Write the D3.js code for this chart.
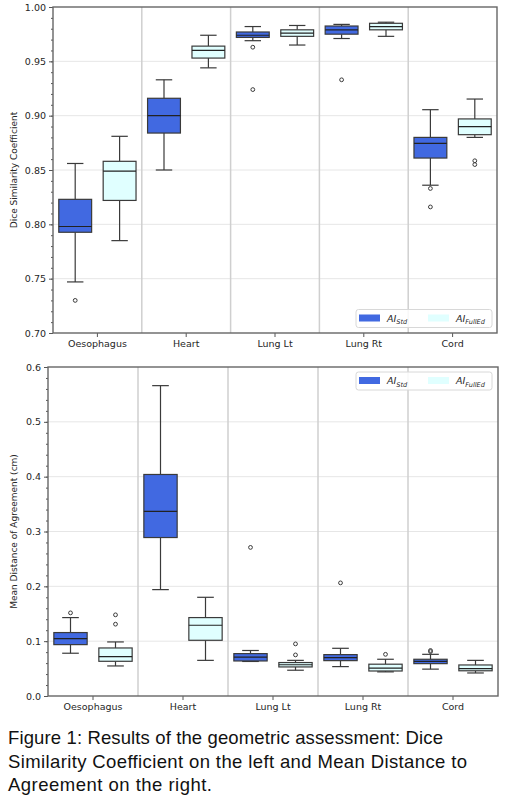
<!DOCTYPE html>
<html>
<head>
<meta charset="utf-8">
<script src="https://cdn.jsdelivr.net/npm/d3@7"></script>
<style>
  body { margin: 0; background: #fff; }
  svg { display: block; }
  .tick text { font-family: 'DejaVu Sans', sans-serif; font-size: 9.5px; fill: #262626; }
</style>
</head>
<body>
<svg id="fig" width="509" height="800"></svg>
<script>
const categories = ['Oesophagus', 'Heart', 'Lung Lt', 'Lung Rt', 'Cord'];
const series = ['Std', 'FullEd'];

// [lower whisker, q1, median, q3, upper whisker]
const dscStd = [
  [0.747, 0.7927, 0.798, 0.823, 0.856],
  [0.850, 0.884, 0.900, 0.916, 0.933],
  [0.969, 0.972, 0.974, 0.977, 0.982],
  [0.971, 0.975, 0.979, 0.9825, 0.984],
  [0.836, 0.861, 0.8745, 0.880, 0.9055]
];
const dscStdOutliers = [[0.730], [], [0.963, 0.924], [0.933], [0.833, 0.816]];
const dscFull = [
  [0.785, 0.822, 0.849, 0.858, 0.881],
  [0.944, 0.953, 0.960, 0.964, 0.974],
  [0.965, 0.973, 0.976, 0.979, 0.983],
  [0.973, 0.979, 0.982, 0.985, 0.986],
  [0.880, 0.8825, 0.890, 0.897, 0.9153]
];
const dscFullOutliers = [[], [], [], [], [0.8585, 0.855]];

const mdaStd = [
  [0.078, 0.0937, 0.1047, 0.1157, 0.143],
  [0.194, 0.289, 0.3366, 0.404, 0.566],
  [0.063, 0.0639, 0.071, 0.0773, 0.083],
  [0.0536, 0.0645, 0.070, 0.0755, 0.087],
  [0.049, 0.059, 0.063, 0.067, 0.076]
];
const mdaStdOutliers = [[0.1516], [], [0.271], [0.2063], [0.083, 0.081]];
const mdaFull = [
  [0.0548, 0.0633, 0.0718, 0.0876, 0.0986],
  [0.065, 0.1016, 0.129, 0.143, 0.180],
  [0.047, 0.053, 0.057, 0.061, 0.065],
  [0.044, 0.0456, 0.051, 0.058, 0.067],
  [0.042, 0.046, 0.050, 0.0566, 0.065]
];
const mdaFullOutliers = [[0.148, 0.131], [], [0.0749, 0.095], [0.076], []];

const dscTicks = [0.70, 0.75, 0.80, 0.85, 0.90, 0.95, 1.00];
const mdaTicks = [0.0, 0.1, 0.2, 0.3, 0.4, 0.5, 0.6];

const captionLines = [
  'Figure 1: Results of the geometric assessment: Dice',
  'Similarity Coefficient on the left and Mean Distance to',
  'Agreement on the right.'
];

const colors = {'Std': '#4169e1', 'FullEd': '#e0ffff'};
const edge = '#3a3a3a';

const svg = d3.select('#fig');

function drawPanel(p) {
  let g = svg.append('g');
  let x = d3.scaleBand().domain(categories).range([p.left, p.right]);
  let xi = d3.scaleBand().domain(series).range([0, x.bandwidth()]);
  let y = d3.scaleLinear().domain(p.domain).range([p.bottom, p.top]);
  let boxW = xi.bandwidth() * 0.74;

  // horizontal grid
  g.append('g').selectAll('line')
    .data(p.ticks.slice(1, -1))
    .enter().append('line')
    .attr('x1', p.left).attr('x2', p.right)
    .attr('y1', d => y(d)).attr('y2', d => y(d))
    .attr('stroke', '#e6e6e6').attr('stroke-width', 1);

  // category separators
  g.append('g').selectAll('line')
    .data(categories.slice(1))
    .enter().append('line')
    .attr('x1', d => x(d)).attr('x2', d => x(d))
    .attr('y1', p.top).attr('y2', p.bottom)
    .attr('stroke', '#cfcfcf').attr('stroke-width', 1.5);

  // boxes
  series.forEach((s, si) => {
    let stats = p.stats[si];
    let outl = p.outliers[si];
    let bg = g.append('g').selectAll('g')
      .data(categories.map((c, i) => ({c: c, st: stats[i], out: outl[i]})))
      .enter().append('g');
    let cx = d => x(d.c) + xi(s) + xi.bandwidth() / 2;

    bg.append('line')
      .attr('x1', cx).attr('x2', cx)
      .attr('y1', d => y(d.st[0])).attr('y2', d => y(d.st[1]))
      .attr('stroke', edge).attr('stroke-width', 1.2);
    bg.append('line')
      .attr('x1', cx).attr('x2', cx)
      .attr('y1', d => y(d.st[3])).attr('y2', d => y(d.st[4]))
      .attr('stroke', edge).attr('stroke-width', 1.2);
    [0, 4].forEach(k => {
      bg.append('line')
        .attr('x1', d => cx(d) - boxW / 4).attr('x2', d => cx(d) + boxW / 4)
        .attr('y1', d => y(d.st[k])).attr('y2', d => y(d.st[k]))
        .attr('stroke', edge).attr('stroke-width', 1.2);
    });
    bg.append('rect')
      .attr('x', d => cx(d) - boxW / 2)
      .attr('width', boxW)
      .attr('y', d => y(d.st[3]))
      .attr('height', d => y(d.st[1]) - y(d.st[3]))
      .attr('fill', colors[s])
      .attr('stroke', edge).attr('stroke-width', 1.2);
    bg.append('line')
      .attr('x1', d => cx(d) - boxW / 2).attr('x2', d => cx(d) + boxW / 2)
      .attr('y1', d => y(d.st[2])).attr('y2', d => y(d.st[2]))
      .attr('stroke', '#222').attr('stroke-width', 1.2);
    bg.selectAll('circle')
      .data(d => d.out.map(v => ({v: v, c: d.c})))
      .enter().append('circle')
      .attr('cx', cx)
      .attr('cy', d => y(d.v))
      .attr('r', 1.9)
      .attr('fill', 'none')
      .attr('stroke', edge).attr('stroke-width', 1);
  });

  // axes
  let yMinor = d3.range(p.domain[0], p.domain[1] + p.minor / 2, p.minor);
  g.append('g')
    .attr('transform', 'translate(' + p.left + ',0)')
    .call(d3.axisLeft(y).tickValues(yMinor).tickSize(2).tickFormat(''))
    .call(a => a.select('.domain').remove())
    .selectAll('line').attr('stroke', '#555');
  g.append('g')
    .attr('transform', 'translate(' + p.left + ',0)')
    .call(d3.axisLeft(y).tickValues(p.ticks).tickSize(4).tickPadding(3).tickFormat(d3.format(p.fmt)))
    .call(a => a.select('.domain').remove())
    .selectAll('line').attr('stroke', '#555');
  g.append('g')
    .attr('transform', 'translate(0,' + p.bottom + ')')
    .call(d3.axisBottom(x).tickSize(4).tickPadding(3))
    .call(a => a.select('.domain').remove())
    .selectAll('line').attr('stroke', '#555');

  g.append('rect')
    .attr('x', p.left).attr('y', p.top)
    .attr('width', p.right - p.left).attr('height', p.bottom - p.top)
    .attr('fill', 'none').attr('stroke', '#666').attr('stroke-width', 1.4);

  g.append('text')
    .attr('transform', 'translate(14,' + (p.top + p.bottom) / 2 + ') rotate(-90)')
    .attr('text-anchor', 'middle')
    .attr('dy', '0.35em')
    .style('font-family', "'DejaVu Sans', sans-serif")
    .style('font-size', '9px')
    .style('fill', '#262626')
    .text(p.label);

  // legend
  let lg = g.append('g').attr('transform', 'translate(' + p.legend[0] + ',' + p.legend[1] + ')');
  lg.append('rect')
    .attr('width', 136).attr('height', 18).attr('rx', 2.5)
    .attr('fill', 'rgba(255,255,255,0.85)')
    .attr('stroke', '#d8d8d8').attr('stroke-width', 1);
  series.forEach((s, i) => {
    let ox = 3 + i * 69;
    lg.append('rect')
      .attr('x', ox).attr('y', 5).attr('width', 21).attr('height', 7)
      .attr('fill', colors[s]);
    let t = lg.append('text')
      .attr('x', ox + 28).attr('y', 12)
      .style('font-family', "'DejaVu Sans', sans-serif")
      .style('font-style', 'italic')
      .style('font-size', '9.5px')
      .style('fill', '#262626');
    t.append('tspan').text('AI');
    t.append('tspan').attr('dy', 2.5).style('font-size', '6.5px').text(s);
  });
}

drawPanel({
  left: 53, right: 497, top: 7, bottom: 333,
  domain: [0.70, 1.00], ticks: dscTicks, minor: 0.01, fmt: '.2f',
  stats: [dscStd, dscFull], outliers: [dscStdOutliers, dscFullOutliers],
  label: 'Dice Similarity Coefficient', legend: [356, 309.5]
});

drawPanel({
  left: 48, right: 498, top: 367, bottom: 696,
  domain: [0.0, 0.6], ticks: mdaTicks, minor: 0.02, fmt: '.1f',
  stats: [mdaStd, mdaFull], outliers: [mdaStdOutliers, mdaFullOutliers],
  label: 'Mean Distance of Agreement (cm)', legend: [356, 372]
});

// caption
let cap = svg.append('g');
let capLengths = [435, 459, 204];
cap.selectAll('text')
  .data(captionLines)
  .enter().append('text')
  .attr('x', 8)
  .attr('y', (d, i) => 744 + i * 23.5)
  .attr('textLength', (d, i) => capLengths[i])
  .attr('lengthAdjust', 'spacing')
  .style('font-family', "'Liberation Sans', Arial, sans-serif")
  .style('font-size', '18.5px')
  .style('fill', '#111')
  .text(d => d);
</script>
</body>
</html>
